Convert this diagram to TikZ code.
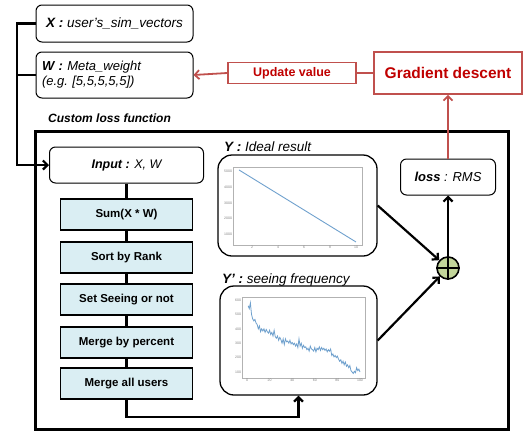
\documentclass[tikz,border=0pt]{standalone}
\usepackage{fontspec}
\setmainfont{Liberation Sans}
\usetikzlibrary{arrows.meta}
\definecolor{stepblue}{RGB}{218,238,243}
\definecolor{gdred}{RGB}{192,80,77}
\definecolor{gdtext}{RGB}{192,0,0}
\definecolor{sumgreen}{RGB}{195,214,155}
\definecolor{plotblue}{RGB}{110,160,205}
\begin{document}
\begin{tikzpicture}[x=1pt,y=-1pt,>={Straight Barb[length=4.5pt,width=9pt]},
    rbox/.style={draw,rounded corners=6pt,line width=1pt,fill=white},
    stepbox/.style={draw,line width=1.6pt,fill=stepblue,minimum width=132pt,minimum height=31pt,font=\bfseries\fontsize{11.5}{13}\selectfont},
    redbox/.style={draw=gdred,line width=1.6pt,text=gdtext,fill=white},
    plotbox/.style={draw,rounded corners=14pt,line width=1.3pt},
    ticklbl/.style={font=\fontsize{3.5}{4}\selectfont,text=gray,inner sep=0.8pt},
    conn/.style={line width=2.2pt},
    redconn/.style={line width=1.8pt,draw=gdred}]
	    \useasboundingbox (0,0) rectangle (524,432);
	    % inputs and update loop
	    \node[rbox,minimum width=157pt,minimum height=37pt,font=\itshape\fontsize{13.5}{15}\selectfont](xvec) at (114.5,23.5){\textbf{X :} user's\_sim\_vectors};
	    \node[rbox,minimum width=157pt,minimum height=46pt,align=left,text width=145pt,font=\itshape\fontsize{13}{15}\selectfont](wvec) at (114.5,75){\textbf{W :} Meta\_weight\\(e.g.\ [5,5,5,5,5])};
	    \node[redbox,minimum width=128pt,minimum height=21pt,font=\bfseries\fontsize{12.5}{14}\selectfont](upd) at (292,73){Update value};
	    \node[redbox,minimum width=148pt,minimum height=42pt,font=\bfseries\fontsize{15.5}{17}\selectfont](gd) at (448,73){Gradient descent};
	    % custom loss function frame
	    \node[draw,line width=3pt,minimum width=473pt,minimum height=298pt](cfun) at (271.5,280){};
	    \node[anchor=base west,inner sep=0pt,font=\bfseries\itshape\fontsize{12}{14}\selectfont](cfunlbl) at (48,122){Custom loss function};
	    \node[rbox,minimum width=154pt,minimum height=36pt,font=\itshape\fontsize{12.5}{14}\selectfont](inp) at (126.5,165){\textbf{Input :} X, W};
	    \node[stepbox](sumxw) at (126.5,214.5){Sum(X * W)};
	    \node[stepbox](srank) at (126.5,257.5){Sort by Rank};
	    \node[stepbox](sseen) at (126.5,299.5){Set Seeing or not};
	    \node[stepbox](mperc) at (126.5,342.5){Merge by percent};
	    \node[stepbox](musers) at (126.5,383.5){Merge all users};
	    % plots
	    \node[plotbox,minimum width=159pt,minimum height=101pt](ybox) at (297.5,205.5){};
	    \node[plotbox,minimum width=157pt,minimum height=109pt](ypbox) at (298.5,340.5){};
	    \node[anchor=base west,inner sep=0pt,font=\itshape\fontsize{13.5}{15}\selectfont](ylbl) at (224,151){\textbf{Y :} Ideal result};
	    \node[anchor=base west,inner sep=0pt,font=\itshape\fontsize{13.5}{15}\selectfont](yplbl) at (222,283){\textbf{Y' :} seeing frequency};
	    \begin{scope}[shift={(226,249.8)},x=13pt,y=0.01565pt]
	        \draw[gray!60,line width=0.4pt](0.54,308) rectangle (10.46,5292);
	        \draw[plotblue,line width=0.9pt](1,5100)--(10,500);
	        \foreach \t in {2,4,6,8,10}
	            \node[ticklbl,below](yx\t) at (\t,308){\t};
	        \foreach \v in {1000,2000,3000,4000,5000}
	            \node[ticklbl,left](yy\v) at (0.54,\v){\v};
	    \end{scope}
	    \begin{scope}[shift={(247,386.4)},x=1.13pt,y=0.144pt]
	        \draw[gray!60,line width=0.4pt](-4.4,58) rectangle (104.4,621);
	        \draw[plotblue,line width=0.8pt] plot coordinates {(1,560) (2,540) (3,580) (4,500) (5,470) (6,455) (7,465) (8,440) (9,430) (10,400) (11,420) (12,380) (13,400) (14,385) (15,400) (16,375) (17,395) (18,380) (19,370) (20,390) (21,360) (22,375) (23,350) (24,390) (25,345) (26,335) (27,350) (28,320) (29,340) (30,325) (31,300) (32,330) (33,290) (34,330) (35,310) (36,315) (37,300) (38,320) (39,295) (40,305) (41,290) (42,300) (43,280) (44,295) (45,270) (46,330) (47,280) (48,300) (49,265) (50,285) (51,270) (52,275) (53,255) (54,265) (55,245) (56,280) (57,260) (58,255) (59,245) (60,270) (61,240) (62,265) (63,255) (64,275) (65,250) (66,270) (67,255) (68,265) (69,250) (70,260) (71,240) (72,255) (73,245) (74,260) (75,215) (76,225) (77,205) (78,215) (79,200) (80,210) (81,190) (82,175) (83,185) (84,160) (85,175) (86,150) (87,170) (88,140) (89,150) (90,130) (91,145) (92,110) (93,100) (94,90) (95,105) (96,95) (97,130) (98,110) (99,120) (100,100)};
	        \foreach \t in {0,20,40,60,80,100}
	            \node[ticklbl,below](ypx\t) at (\t,58){\t};
	        \foreach \v in {100,200,300,400,500,600}
	            \node[ticklbl,left](ypy\v) at (-4.4,\v){\v};
	    \end{scope}
	    % loss
	    \node[circle,draw,line width=1.6pt,fill=sumgreen,minimum size=22pt,inner sep=0pt](plus) at (448,268){};
	    \draw[line width=1.6pt](plus.north)--(plus.south)(plus.west)--(plus.east);
	    \node[rbox,minimum width=95pt,minimum height=36pt,font=\itshape\fontsize{13}{15}\selectfont](loss) at (448,177){\textbf{loss} : RMS};
	    % connectors
	    \coordinate(bustop) at (17,23.5);
	    \draw[conn,->](xvec.west)--(bustop)|-(inp.west);
	    \draw[conn](wvec.west)--(wvec.west-|bustop);
	    \draw[conn](inp.south)--(sumxw.north)(sumxw.south)--(srank.north)(srank.south)--(sseen.north)(sseen.south)--(mperc.north)(mperc.south)--(musers.north);
	    \draw[conn,->](musers.south)--++(0,17)-|(ypbox.south);
	    \draw[conn,->](ybox.east)--(plus);
	    \draw[conn,->](ypbox.east)--(plus);
	    \draw[conn,->](plus.north)--(loss.south);
	    \draw[redconn,->](loss.north)--(gd.south);
	    \draw[redconn](gd.west)--(upd.east);
	    \draw[redconn,->](upd.west)--(wvec.east);
	\end{tikzpicture}
\end{document}
